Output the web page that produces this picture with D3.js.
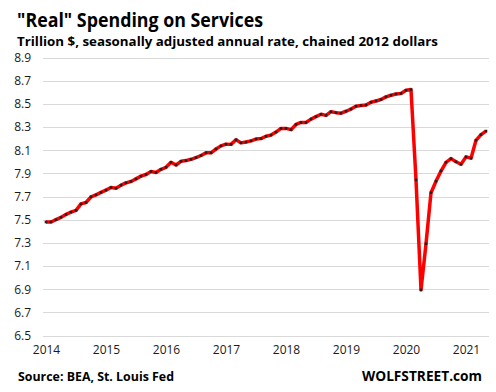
<!DOCTYPE html>
<html>
<head>
<meta charset="utf-8">
<script src="https://cdn.jsdelivr.net/npm/d3@7"></script>
<style>
  html, body { margin: 0; padding: 0; background: #fff; }
  svg { display: block; }
  text { font-family: "Open Sans", "DejaVu Sans", sans-serif; }
</style>
</head>
<body>
<svg id="chart" width="496" height="392"></svg>
<script>
// ---- Data (monthly, Jan 2014 .. May 2021) ----
const startYear = 2014;
const startMonth = 0; // January
const values = [
  7.480, 7.480, 7.500, 7.520, 7.545, 7.565, 7.580, 7.636, 7.648, 7.697, 7.714, 7.735,
  7.755, 7.778, 7.772, 7.798, 7.818, 7.830, 7.852, 7.876, 7.890, 7.916, 7.907, 7.935,
  7.952, 7.995, 7.972, 8.004, 8.010, 8.021, 8.036, 8.054, 8.077, 8.077, 8.110, 8.137,
  8.152, 8.150, 8.190, 8.163, 8.170, 8.180, 8.196, 8.200, 8.220, 8.230, 8.256, 8.288,
  8.288, 8.277, 8.322, 8.339, 8.339, 8.368, 8.390, 8.410, 8.400, 8.432, 8.424, 8.419,
  8.436, 8.455, 8.480, 8.486, 8.490, 8.514, 8.525, 8.537, 8.560, 8.574, 8.585, 8.590,
  8.617, 8.623, 7.843, 6.894, 7.292, 7.733, 7.832, 7.920, 7.995, 8.027, 8.000, 7.978,
  8.042, 8.031, 8.185, 8.234, 8.265
];
const yTicks = [6.5, 6.7, 6.9, 7.1, 7.3, 7.5, 7.7, 7.9, 8.1, 8.3, 8.5, 8.7, 8.9];
const xTickYears = [2014, 2015, 2016, 2017, 2018, 2019, 2020, 2021];
const title = '"Real" Spending on Services';
const subtitle = 'Trillion $, seasonally adjusted annual rate, chained 2012 dollars';
const source = 'Source: BEA, St. Louis Fed';
const brand = 'WOLFSTREET.com';

const data = values.map((v, i) => ({ i, v }));

const svg = d3.select('#chart');
const plotLeft = 43, plotRight = 489;

const x = d3.scaleLinear().domain([0, values.length - 1]).range([46, 486]);
const y = d3.scaleLinear().domain([6.5, 8.9]).range([335.5, 57.5]);

// Y grid + labels
const yAxis = d3.axisLeft(y)
  .tickValues(yTicks)
  .tickFormat(d3.format('.1f'))
  .tickSize(-(plotRight - plotLeft))
  .tickPadding(12);
const gy = svg.append('g').attr('transform', `translate(${plotLeft},0)`).call(yAxis);
gy.select('.domain').remove();
gy.selectAll('.tick line').attr('stroke', '#d9d9d9').attr('stroke-width', 1).attr('shape-rendering', 'crispEdges');
gy.selectAll('.tick text').attr('fill', '#1a1a1a').style('font-size', '12px')
  .style('font-family', '"Open Sans", "DejaVu Sans", sans-serif');

// X labels
const xAxis = d3.axisBottom(x)
  .tickValues(xTickYears.map(yr => (yr - startYear) * 12 - startMonth))
  .tickFormat(d => String(startYear + Math.floor(d / 12)))
  .tickSize(0)
  .tickPadding(10);
const gx = svg.append('g').attr('transform', `translate(0,${y(6.5)})`).call(xAxis);
gx.select('.domain').remove();
gx.selectAll('.tick text').attr('fill', '#1a1a1a').style('font-size', '12px')
  .style('font-family', '"Open Sans", "DejaVu Sans", sans-serif');

// Line
const line = d3.line().x(d => x(d.i)).y(d => y(d.v));
svg.append('path').datum(data)
  .attr('d', line)
  .attr('fill', 'none')
  .attr('stroke', '#ff0000')
  .attr('stroke-width', 3.5)
  .attr('stroke-linejoin', 'round');

// Markers
svg.append('g').selectAll('rect').data(data).join('rect')
  .attr('x', d => x(d.i) - 1.3)
  .attr('y', d => y(d.v) - 1.3)
  .attr('width', 2.6).attr('height', 2.6)
  .attr('fill', '#222');

// Titles
svg.append('text').attr('x', 17).attr('y', 26.5)
  .attr('textLength', 246).attr('lengthAdjust', 'spacingAndGlyphs')
  .style('font-size', '19.5px').style('font-weight', 'bold').attr('fill', '#000')
  .text(title);
svg.append('text').attr('x', 17).attr('y', 45.5)
  .attr('textLength', 421).attr('lengthAdjust', 'spacingAndGlyphs')
  .style('font-size', '13px').style('font-weight', 'bold').attr('fill', '#000')
  .text(subtitle);

// Footer
svg.append('text').attr('x', 18).attr('y', 381)
  .attr('textLength', 156).attr('lengthAdjust', 'spacingAndGlyphs')
  .style('font-size', '13px').style('font-weight', 'bold').attr('fill', '#000')
  .text(source);
svg.append('text').attr('x', 362).attr('y', 381)
  .attr('textLength', 120).attr('lengthAdjust', 'spacingAndGlyphs')
  .style('font-size', '14px').style('font-weight', 'bold').attr('fill', '#000')
  .text(brand);
</script>
</body>
</html>
